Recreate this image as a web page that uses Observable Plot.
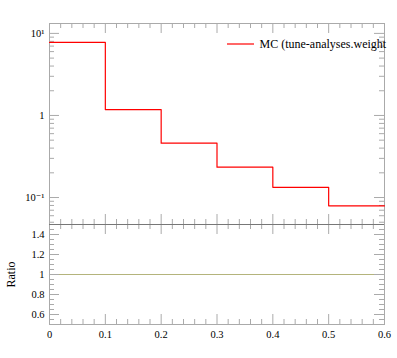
<!DOCTYPE html>
<html><head><meta charset="utf-8">
<script src="https://cdn.jsdelivr.net/npm/d3@7"></script>
<script src="https://cdn.jsdelivr.net/npm/@observablehq/plot@0.6"></script>
<style>
body{margin:0;background:#fff;}
#c{position:relative;width:397px;height:358px;}
#c svg{position:absolute;left:0;overflow:visible;background:transparent !important;}
#c svg, #c svg text, #c svg g{font-family:'Liberation Serif','DejaVu Serif',serif !important;}
</style></head><body><div id="c"></div>
<script>
const binEdges = [0, 0.1, 0.2, 0.3, 0.4, 0.5, 0.6];
const mcValues = [7.76, 1.18, 0.459, 0.234, 0.133, 0.0792];
const ratioValues = [1, 1, 1, 1, 1, 1];
const xMajorTicks = [0, 0.1, 0.2, 0.3, 0.4, 0.5, 0.6];
const xTickLabels = ["0", "0.1", "0.2", "0.3", "0.4", "0.5", "0.6"];
const yTopMajorTicks = [0.1, 1, 10];
const yTopTickLabels = ["10\u207B\u00B9", "1", "10\u00B9"];
const ratioMajorTicks = [0.6, 0.8, 1, 1.2, 1.4];
const ratioTickLabels = ["0.6", "0.8", "1", "1.2", "1.4"];
const legendLabel = "MC (tune-analyses.weight";
const ratioLabel = "Ratio";

const FONT = "'Liberation Serif', 'DejaVu Serif', serif";
const W = 397, L = 49, R = 13;
const topT = 23, topB = 224, ratB = 324;
const pw = W - L - R;
const h1 = topB - topT;
const h2 = ratB - topB;
const frameColor = "#aaaaaa";

const n = mcValues.length;
const stepPts = binEdges.map((x, i) => ({x, y: mcValues[Math.min(i, n - 1)]}));
const ratioPts = binEdges.map((x, i) => ({x, y: ratioValues[Math.min(i, n - 1)]}));

const near = (a, arr) => arr.some(b => Math.abs(a - b) < 1e-6);
const xMinor = d3.range(0, 0.6001, 0.02).filter(v => !near(v, xMajorTicks));
const yTopDomain = [0.0469, 13.2];
const yTopMinor = [];
for (const dec of [0.01, 0.1, 1]) for (let k = 2; k <= 9; k++) {
  const v = k * dec;
  if (v >= yTopDomain[0] && v <= yTopDomain[1]) yTopMinor.push(v);
}
const ratioMinor = d3.range(0.5, 1.5001, 0.05).filter(v => !near(v, ratioMajorTicks) && v > 0.51 && v < 1.49);

function xTicks(h) {
  return [
    Plot.tickX(xMajorTicks, {x: d => d, insetBottom: h - 10, stroke: frameColor}),
    Plot.tickX(xMinor, {x: d => d, insetBottom: h - 5, stroke: frameColor}),
    Plot.tickX(xMajorTicks, {x: d => d, insetTop: h - 10, stroke: frameColor}),
    Plot.tickX(xMinor, {x: d => d, insetTop: h - 5, stroke: frameColor})
  ];
}
function yTicks(major, minor) {
  return [
    Plot.tickY(major, {y: d => d, insetRight: pw - 10, stroke: frameColor}),
    Plot.tickY(minor, {y: d => d, insetRight: pw - 5, stroke: frameColor}),
    Plot.tickY(major, {y: d => d, insetLeft: pw - 10, stroke: frameColor}),
    Plot.tickY(minor, {y: d => d, insetLeft: pw - 5, stroke: frameColor})
  ];
}

const topPlot = Plot.plot({
  width: W, height: topB + 6,
  marginTop: topT, marginBottom: 6, marginLeft: L, marginRight: R,
  style: {background: "transparent", overflow: "visible", fontFamily: FONT, fontSize: "10.5px", color: "#000"},
  x: {domain: [0, 0.6], axis: null},
  y: {type: "log", domain: yTopDomain},
  marks: [
    ...xTicks(h1),
    ...yTicks(yTopMajorTicks, yTopMinor),
    Plot.frame({stroke: frameColor}),
    Plot.line(stepPts, {x: "x", y: "y", curve: "step-after", stroke: "#ff0000", strokeWidth: 1.2}),
    Plot.axisY(yTopMajorTicks, {tickSize: 0, tickPadding: 5, label: null,
      tickFormat: d => yTopTickLabels[yTopMajorTicks.indexOf(d)], fill: "#000"}),
    Plot.text([legendLabel], {frameAnchor: "top-left", dx: 210, dy: 21, text: d => d,
      textAnchor: "start", lineAnchor: "middle", fontSize: 12, fill: "#000"})
  ]
});
topPlot.style.top = "0px";

const ratioPlot = Plot.plot({
  width: W, height: 358 - (topB - 10),
  marginTop: 10, marginBottom: 358 - ratB, marginLeft: L, marginRight: R,
  style: {background: "transparent", overflow: "visible", fontFamily: FONT, fontSize: "10.5px", color: "#000"},
  x: {domain: [0, 0.6], axis: null},
  y: {domain: [0.5, 1.5], axis: null},
  marks: [
    Plot.line(ratioPts, {x: "x", y: "y", curve: "step-after", stroke: "#b4b47c", strokeWidth: 1.2}),
    ...xTicks(h2),
    ...yTicks(ratioMajorTicks, ratioMinor),
    Plot.frame({stroke: frameColor}),
    Plot.ruleY([1.5], {stroke: "#777777"}),
    Plot.axisX(xMajorTicks, {tickSize: 0, tickPadding: 6, label: null,
      tickFormat: d => xTickLabels[xMajorTicks.indexOf(d)], fill: "#000"}),
    Plot.axisY(ratioMajorTicks, {tickSize: 0, tickPadding: 5, label: null,
      tickFormat: d => ratioTickLabels[ratioMajorTicks.indexOf(d)], fill: "#000"}),
    Plot.text([ratioLabel], {frameAnchor: "left", dx: -38, rotate: -90, text: d => d,
      textAnchor: "middle", lineAnchor: "middle", fontSize: 12, fill: "#000"})
  ]
});
ratioPlot.style.top = (topB - 10) + "px";

const c = document.getElementById("c");
c.appendChild(topPlot);
c.appendChild(ratioPlot);

// legend swatch
d3.select(topPlot).append("line")
  .attr("x1", 227).attr("x2", 254).attr("y1", 44).attr("y2", 44)
  .attr("stroke", "#ff0000").attr("stroke-width", 1.2);
</script></body></html>
